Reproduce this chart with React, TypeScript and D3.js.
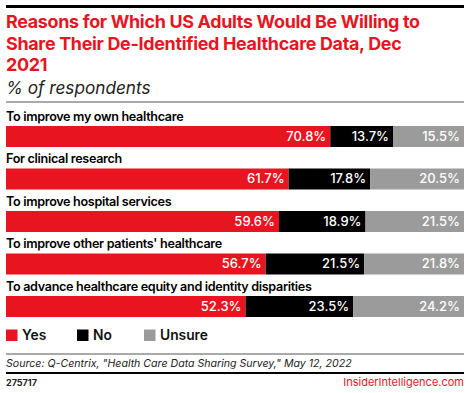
import React from "react";
import * as d3 from "d3";

const categories = [
  "To improve my own healthcare",
  "For clinical research",
  "To improve hospital services",
  "To improve other patients' healthcare",
  "To advance healthcare equity and identity disparities",
];
const yesValues = [70.8, 61.7, 59.6, 56.7, 52.3];
const noValues = [13.7, 17.8, 18.9, 21.5, 23.5];
const unsureValues = [15.5, 20.5, 21.5, 21.8, 24.2];
const seriesNames = ["Yes", "No", "Unsure"];
const seriesColors = ["#e8141f", "#000000", "#9b9b9b"];

const W = 470;
const H = 393;
const FONT = "Inter, 'Noto Sans', sans-serif";

export default function App() {
  const x = d3.scaleLinear().domain([0, 100]).range([6, 464]);
  const band = d3
    .scaleBand<number>()
    .domain(d3.range(categories.length))
    .range([105, 317.5])
    .paddingInner(0)
    .paddingOuter(0);
  const rows = categories.map((c, i) => {
    const vals = [yesValues[i], noValues[i], unsureValues[i]];
    let acc = 0;
    const segs = vals.map((v, k) => {
      const s = { x0: acc, x1: acc + v, v, k };
      acc += v;
      return s;
    });
    return { c, i, segs };
  });
  const barH = 21;
  return (
    <svg width={W} height={H} style={{ position: "absolute", left: 0, top: 0 }} fontFamily={FONT}>
      <rect width={W} height={H} fill="#fff" />
      <line x1={6} x2={464} y1={6.5} y2={6.5} stroke="#000" strokeWidth={3} />
      <g fill="#e8141f" fontWeight={700} fontSize={17.9} letterSpacing={-0.3}>
        <text x={6} y={28}>Reasons for Which US Adults Would Be Willing to</text>
        <text x={6} y={49.5}>Share Their De-Identified Healthcare Data, Dec</text>
        <text x={6} y={71}>2021</text>
      </g>
      <text x={6} y={94} fontSize={17.2} fontStyle="italic" fill="#222">% of respondents</text>
      <line x1={6} x2={464} y1={102} y2={102} stroke="#555" strokeWidth={1} />
      {rows.map((r) => {
        const top = (band(r.i) as number) + 21;
        return (
          <g key={r.c}>
            <text x={6} y={top - 5.3} fontSize={12.6} fontWeight={600} fill="#000" letterSpacing={-0.32}>
              {r.c}
            </text>
            {r.segs.map((s) => (
              <g key={s.k}>
                <rect x={x(s.x0)} y={top} width={x(s.x1) - x(s.x0)} height={barH} fill={seriesColors[s.k]} />
                <text
                  x={x(s.x1) - 4}
                  y={top + 14.5}
                  textAnchor="end"
                  fontSize={13}
                  fontWeight={500}
                  fill="#fff"
                >
                  {s.v.toFixed(1)}%
                </text>
              </g>
            ))}
          </g>
        );
      })}
      {seriesNames.map((n, k) => {
        const lx = [6, 77, 144][k];
        return (
          <g key={n}>
            <rect x={lx} y={329.5} width={11.5} height={11.5} fill={seriesColors[k]} />
            <text x={lx + 16} y={340} fontSize={13.8} fontWeight={600} fill="#111">{n}</text>
          </g>
        );
      })}
      <line x1={6} x2={464} y1={354} y2={354} stroke="#555" strokeWidth={1} />
      <text x={6} y={367} fontSize={10.6} fontStyle="italic" fill="#222">
        Source: Q-Centrix, "Health Care Data Sharing Survey," May 12, 2022
      </text>
      <line x1={6} x2={464} y1={373} y2={373} stroke="#000" strokeWidth={2} />
      <text x={6} y={385.5} fontSize={9} fontWeight={700} fill="#222">275717</text>
      <text x={464} y={385.5} fontSize={11} textAnchor="end" fill="#e8141f">InsiderIntelligence.com</text>
    </svg>
  );
}
